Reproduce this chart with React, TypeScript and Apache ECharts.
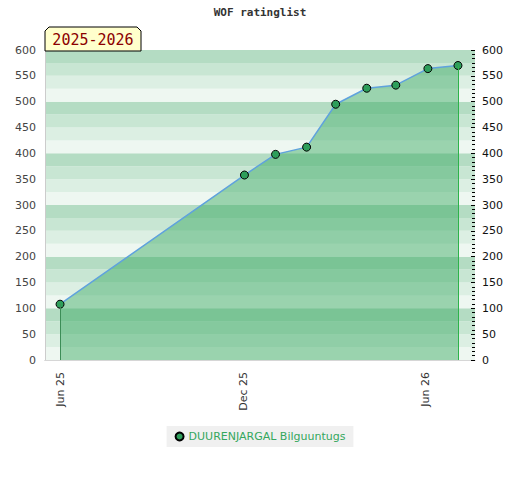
import React, { useEffect, useRef } from "react";
import * as echarts from "echarts";

const chartTitle = "WOF ratinglist";
const seasonLabel = "2025-2026";
const playerName = "DUURENJARGAL Bilguuntugs";

const dates = [
  "2025-06-01",
  "2025-12-02",
  "2026-01-02",
  "2026-02-02",
  "2026-03-03",
  "2026-04-03",
  "2026-05-02",
  "2026-06-03",
  "2026-07-03",
];
const ratings = [108, 358, 398, 412, 495, 526, 532, 564, 570];

const xTickDates = ["2025-06-01", "2025-12-01", "2026-06-01"];
const xTickLabels = ["Jun 25", "Dec 25", "Jun 26"];
const xRange = ["2025-05-17", "2026-07-20"];

const yMin = 0;
const yMax = 600;
const yStep = 50;
const bandStep = 25;
const bandColors = ["#eef7f1", "#dcefe3", "#c8e6d3", "#b4dcc3"];

const ts = (s: string) => {
  const [y, m, d] = s.split("-").map(Number);
  return new Date(y, m - 1, d).getTime();
};

export default function App() {
  const ref = useRef<HTMLDivElement>(null);
  useEffect(() => {
    document.body.style.margin = "0";
    const chart = echarts.init(ref.current!, null, { renderer: "svg" });
    const tickTimes = xTickDates.map(ts);
    const data = dates.map((d, i) => [ts(d), ratings[i]]);
    const last = data.length - 1;
    chart.setOption({
      animation: false,
      textStyle: { fontFamily: "DejaVu Sans" },
      title: {
        text: chartTitle,
        left: "center",
        top: 2,
        textStyle: {
          fontFamily: "DejaVu Sans Mono",
          fontWeight: "bold",
          fontSize: 11,
          color: "#333",
        },
      },
      grid: { left: 45, right: 45, top: 50, bottom: 120 },
      legend: {
        bottom: 33,
        left: "center",
        backgroundColor: "#f0f0f0",
        padding: [5, 8],
        icon: "circle",
        itemWidth: 8,
        itemHeight: 8,
        textStyle: { color: "#34a75d", fontSize: 11 },
        data: [playerName],
      },
      xAxis: [
        {
          type: "value",
          min: ts(xRange[0]),
          max: ts(xRange[1]),
          axisLine: { lineStyle: { color: "#cccccc" } },
          axisTick: { show: false },
          splitLine: { show: false },
          axisLabel: {
            customValues: tickTimes,
            rotate: 90,
            margin: 12,
            fontSize: 11,
            color: "#333",
            formatter: (v: number) => {
              const i = tickTimes.indexOf(v);
              return i >= 0 ? xTickLabels[i] : "";
            },
          },
        },
        {
          type: "value",
          position: "top",
          min: ts(xRange[0]),
          max: ts(xRange[1]),
          axisLine: { show: true, lineStyle: { color: "#d6d6d6" } },
          axisTick: { show: false },
          axisLabel: { show: false },
          splitLine: { show: false },
        },
      ],
      yAxis: [
        {
          type: "value",
          position: "left",
          min: yMin,
          max: yMax,
          interval: yStep,
          axisLine: { show: true, lineStyle: { color: "#cccccc" } },
          axisTick: { show: false },
          splitLine: { show: false },
          axisLabel: { fontSize: 11, color: "#444", margin: 9 },
        },
        {
          type: "value",
          position: "right",
          min: yMin,
          max: yMax,
          interval: yStep,
          axisLine: { show: false },
          axisTick: {
            show: true,
            inside: true,
            length: 4,
            lineStyle: { color: "#000" },
          },
          minorTick: {
            show: true,
            splitNumber: 6,
            length: 3,
            lineStyle: { color: "#000" },
          },
          splitLine: { show: false },
          axisLabel: { fontSize: 11, color: "#111", margin: 7 },
        },
        {
          type: "value",
          position: "left",
          min: yMin,
          max: yMax,
          interval: bandStep,
          axisLine: { show: false },
          axisTick: { show: false },
          axisLabel: { show: false },
          splitLine: { show: false },
          splitArea: { show: true, areaStyle: { color: bandColors } },
        },
      ],
      graphic: [
        {
          type: "polygon",
          shape: {
            points: [
              [45, 51],
              [45, 31],
              [49, 27],
              [137, 27],
              [141, 31],
              [141, 51],
            ],
          },
          style: { fill: "#ffffcc", stroke: "#000", lineWidth: 1 },
          z: 100,
        },
        {
          type: "text",
          x: 93,
          y: 40,
          style: {
            text: seasonLabel,
            fill: "#8b0000",
            font: "15px 'DejaVu Sans Mono'",
            textAlign: "center",
            textVerticalAlign: "middle",
          },
          z: 101,
        },
      ],
      series: [
        {
          name: playerName,
          type: "line",
          yAxisIndex: 0,
          data,
          symbol: "circle",
          symbolSize: 8,
          lineStyle: { color: "#5fa2dd", width: 1.5 },
          itemStyle: { color: "#2e9e5b", borderColor: "#000", borderWidth: 1 },
          areaStyle: { color: "rgba(52,167,93,0.45)", opacity: 1, origin: "start" },
          markLine: {
            silent: true,
            symbol: "none",
            label: { show: false },
            data: [
              [
                { coord: [data[0][0], yMin], lineStyle: { color: "#3c8d57", width: 1, type: "solid" } },
                { coord: [data[0][0], data[0][1]] },
              ],
              [
                { coord: [data[last][0], yMin], lineStyle: { color: "#2db34a", width: 1, type: "solid" } },
                { coord: [data[last][0], data[last][1]] },
              ],
            ],
          },
        },
      ],
    });
    return () => chart.dispose();
  }, []);
  return <div ref={ref} style={{ width: 520, height: 480 }} />;
}
